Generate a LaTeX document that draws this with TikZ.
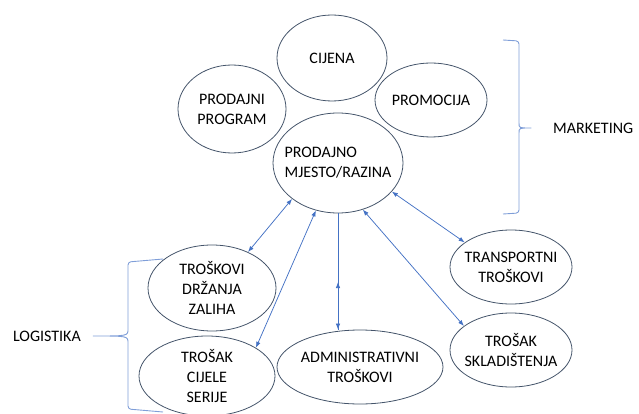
\documentclass[tikz,border=0pt]{standalone}
\usepackage{fontspec}
\setmainfont{Carlito}
\usepackage{xcolor}
\usepackage{tikz}
\usetikzlibrary{shapes.geometric, arrows.meta}
\definecolor{ovalColor}{HTML}{44546A}
\definecolor{linkColor}{HTML}{4472C4}
\definecolor{braceColor}{HTML}{7F9ED8}

\tikzset{
    oval/.style 2 args={ellipse, draw=ovalColor, line width=0.8pt, minimum width=#1, minimum height=#2, inner sep=0pt},
    txt/.style={align=center, font=\fontsize{16}{20}\selectfont},
    link/.style={linkColor, line width=0.75pt, {Latex[length=6pt,width=4.5pt]}-{Latex[length=6pt,width=4.5pt]}},
    brace/.style={braceColor, line width=0.9pt, rounded corners=3pt}
}

\begin{document}
\begin{tikzpicture}[x=1pt, y=-1pt]
    \useasboundingbox (0,0) rectangle (639,414);
    \node[oval={110}{86}, label={[txt]center:CIJENA}] (cijena) at (332,58) {};
    \node[oval={108}{88}, label={[txt]center:PRODAJNI\\PROGRAM}] (program) at (232,109) {};
    \node[oval={112}{74}, label={[txt]center:PROMOCIJA}] (promocija) at (431,100) {};
    \node[oval={130}{100}, label={[txt, align=left]center:PRODAJNO\\MJESTO/RAZINA}] (mjesto) at (338,163) {};
    \node[oval={128}{86}, label={[txt]center:TROŠKOVI\\DRŽANJA\\ZALIHA}] (drzanje) at (212,288) {};
    \node[oval={136}{80}, label={[txt]center:TROŠAK\\CIJELE\\SERIJE}] (serija) at (207,376) {};
    \node[oval={166}{74}, label={[txt]center:ADMINISTRATIVNI\\TROŠKOVI}] (admin) at (360,367) {};
    \node[oval={122}{74}, label={[txt]center:TRANSPORTNI\\TROŠKOVI}] (transport) at (511,267) {};
    \node[oval={122}{74}, label={[txt]center:TROŠAK\\SKLADIŠTENJA}] (skladiste) at (511,350) {};

    \coordinate (mktip) at (533,128);
    \coordinate (lgtip) at (91,336);
    \node[txt, anchor=west, inner sep=0pt] (marketing) at (553,128) {MARKETING};
    \node[txt, anchor=east, inner sep=0pt] (logistika) at (81,336) {LOGISTIKA};

    \draw[link] (drzanje.45) -- (mjesto.218);
    \draw[link] (serija.30) -- (mjesto.245);
    \draw[link] (transport.152) -- (mjesto.332);
    \draw[link] (skladiste.153) -- (mjesto.298);
    \coordinate (uptip) at (338,282);
    \draw[link, -{Latex[length=6pt,width=4.5pt]}] (mjesto.south) -- (mjesto.south |- admin.north);
    \draw[link, -{Latex[length=6pt,width=4.5pt]}] (mjesto.south |- admin.north) -- (uptip);

    \draw[brace] (503,40) -- (519,41) -- (519,120) .. controls (519,128) .. (mktip)
        .. controls (519,128) .. (519,136) -- (519,213) -- (503,214);
    \draw[brace] (163,259) -- (128,262) -- (128,326) .. controls (128,336) .. (lgtip)
        .. controls (128,336) .. (128,346) -- (128,409) -- (163,412);
\end{tikzpicture}
\end{document}
